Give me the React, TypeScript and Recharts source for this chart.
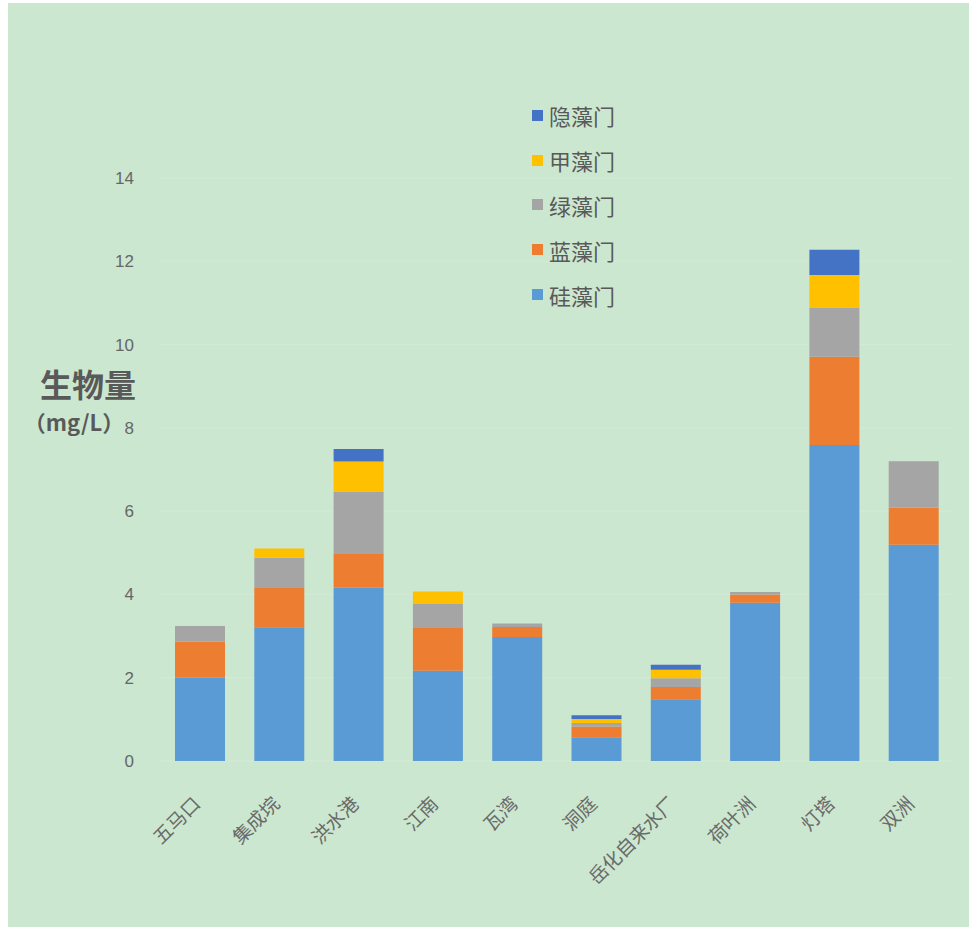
import React from 'react';
import { BarChart, Bar, XAxis, YAxis, CartesianGrid } from 'recharts';

const categories = ['五马口', '集成垸', '洪水港', '江南', '瓦湾', '洞庭', '岳化自来水厂', '荷叶洲', '灯塔', '双洲'];
const diatom = [2.0, 3.21, 4.16, 2.17, 2.98, 0.57, 1.48, 3.8, 7.59, 5.19];
const cyano = [0.87, 0.96, 0.83, 1.04, 0.24, 0.26, 0.3, 0.2, 2.12, 0.9];
const chloro = [0.37, 0.71, 1.48, 0.56, 0.08, 0.08, 0.21, 0.06, 1.18, 1.11];
const pyrro = [0, 0.22, 0.72, 0.3, 0, 0.1, 0.2, 0, 0.78, 0];
const crypto = [0, 0, 0.3, 0, 0, 0.09, 0.12, 0, 0.61, 0];
const yTicks = [0, 2, 4, 6, 8, 10, 12, 14];

const seriesNames = ['硅藻门', '蓝藻门', '绿藻门', '甲藻门', '隐藻门'];
const seriesKeys = ['diatom', 'cyano', 'chloro', 'pyrro', 'crypto'];
const seriesColors = ['#5b9bd5', '#ed7d31', '#a5a5a5', '#ffc000', '#4472c4'];

const data = categories.map((c, i) => ({
  name: c,
  diatom: diatom[i],
  cyano: cyano[i],
  chloro: chloro[i],
  pyrro: pyrro[i],
  crypto: crypto[i],
}));

const XTick = (props: any) => {
  const { x, y, payload } = props;
  return (
    <g transform={`translate(${x + 2},${y + 44})`}>
      <text
        textAnchor="end"
        transform="rotate(-45)"
        fontSize={19}
        fill="#6a6a6a"
        fontFamily="'Noto Sans CJK SC'"
      >
        {payload.value}
      </text>
    </g>
  );
};

const LegendBox = () => {
  const items = seriesNames.map((n, i) => ({ n, c: seriesColors[i] })).reverse();
  return (
    <div
      style={{
        position: 'absolute',
        left: 524,
        top: 90,
        fontFamily: "'Noto Sans CJK SC'",
        fontSize: 22,
        color: '#595959',
      }}
    >
      {items.map((it) => (
        <div key={it.n} style={{ display: 'flex', alignItems: 'center', height: 44.8 }}>
          <span style={{ display: 'inline-block', width: 11, height: 11, background: it.c, marginRight: 6 }} />
          <span style={{ lineHeight: '24px' }}>{it.n}</span>
        </div>
      ))}
    </div>
  );
};

const YLabel = () => (
  <g>
    <text x={80} y={394} textAnchor="middle" fontSize={32} fontWeight="bold" fill="#595959" fontFamily="'Noto Sans CJK SC'">
      生物量
    </text>
    <text x={66} y={428} textAnchor="middle" fontSize={22} fontWeight="bold" fill="#595959" fontFamily="'Noto Sans CJK SC'">
      （mg/L）
    </text>
  </g>
);

export default function App() {
  return (
    <div style={{ position: 'absolute', left: 8, top: 3, width: 961, height: 924, background: '#cce7cf' }}>
      <BarChart width={961} height={924} data={data} margin={{ top: 175, right: 16, bottom: 0, left: 0 }}>
        <CartesianGrid vertical={false} stroke="#d3ead5" />
        <XAxis
          dataKey="name"
          height={166}
          axisLine={false}
          tickLine={false}
          tickSize={0}
          tickMargin={0}
          interval={0}
          tick={<XTick />}
        />
        <YAxis
          width={152}
          domain={[0, 14]}
          ticks={yTicks}
          axisLine={false}
          tickLine={false}
          tickSize={0}
          tickMargin={26}
          tick={{ fill: '#666666', fontSize: 17, fontFamily: "'Liberation Sans'" }}
          label={<YLabel />}
        />
        {seriesKeys.map((k, i) => (
          <Bar
            key={k}
            dataKey={k}
            name={seriesNames[i]}
            stackId="a"
            fill={seriesColors[i]}
            barSize={50}
            isAnimationActive={false}
          />
        ))}
      </BarChart>
      <LegendBox />
    </div>
  );
}
